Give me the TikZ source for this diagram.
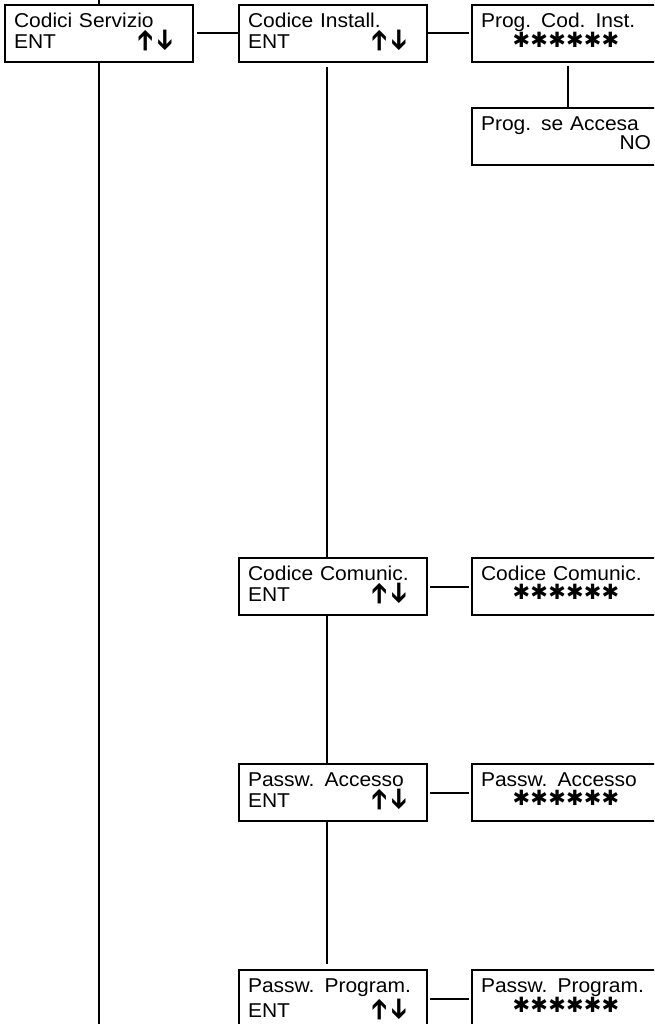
\documentclass[tikz,border=0pt]{standalone}
\usepackage{fontspec}
\usepackage{graphicx}
\setmainfont{Liberation Sans}[FakeStretch=1.05]
\newfontfamily\dejavu{DejaVu Sans}
\newcommand{\updown}{{\dejavu\fontsize{28}{19}\selectfont\rotatebox[origin=c]{90}{➔}\hspace{2pt}\rotatebox[origin=c]{-90}{➔}}}
\newcommand{\onestar}{\makebox[17.8pt]{\dejavu\fontsize{21}{19}\selectfont ✱}}
\newcommand{\pwd}{\onestar\onestar\onestar\onestar\onestar\onestar}
\begin{document}
\begin{tikzpicture}[x=1pt,y=-1pt,
  menu/.style={draw,line width=2pt,rectangle,anchor=north west,outer sep=0pt,
    text width=170pt,inner xsep=9pt,inner ysep=0pt,text height=22.5pt,text depth=34.5pt,
    align=left,font=\fontsize{20}{19}\selectfont},
  link/.style={line width=2pt}]
\useasboundingbox (0,0) rectangle (654,1024);
\clip (0,0) rectangle (654,1024);
\node[menu] (servizio) at (5,5) {Codici Servizio\\ENT\hspace*{\fill}\updown\hspace*{12pt}\null};
\node[menu] (install) at (239,5) {Codice Install.\\ENT\hspace*{\fill}\updown\hspace*{12pt}\null};
\node[menu] (instcode) at (472,5) {Prog. Cod. Inst.\\\hspace*{\fill}\pwd\hspace*{\fill}\null};
\node[menu] (progaccesa) at (472,108) {Prog. se Accesa\\\hspace*{\fill}NO};
\node[menu] (comunic) at (239,558) {Codice Comunic.\\ENT\hspace*{\fill}\updown\hspace*{12pt}\null};
\node[menu] (comcode) at (472,558) {Codice Comunic.\\\hspace*{\fill}\pwd\hspace*{\fill}\null};
\node[menu] (accesso) at (239,764) {Passw. Accesso\\ENT\hspace*{\fill}\updown\hspace*{12pt}\null};
\node[menu] (acccode) at (472,764) {Passw. Accesso\\\hspace*{\fill}\pwd\hspace*{\fill}\null};
\node[menu] (program) at (239,970) {Passw. Program.\\ENT\hspace*{\fill}\updown\hspace*{12pt}\null};
\node[menu] (progcode) at (472,970) {Passw. Program.\\\hspace*{\fill}\pwd\hspace*{\fill}\null};
\coordinate (top) at (99,0);
\coordinate (bottom) at (99,1024);
\draw[link] (top) -- (servizio);
\draw[link] (servizio) -- (bottom);
\draw[link,shorten <=4pt,shorten >=1pt] (servizio) -- (install);
\draw[link,shorten <=1pt,shorten >=3pt] (install) -- (instcode);
\draw[link,shorten <=4pt] ([xshift=2pt]instcode.south) -- ([xshift=2pt]progaccesa.north);
\draw[link,shorten <=5pt] ([xshift=-6pt]install.south) -- ([xshift=-6pt]comunic.north);
\draw[link,shorten <=3pt,shorten >=3pt] (comunic) -- (comcode);
\draw[link] ([xshift=-6pt]comunic.south) -- ([xshift=-6pt]accesso.north);
\draw[link,shorten <=3pt,shorten >=3pt] (accesso) -- (acccode);
\draw[link,shorten >=6pt] ([xshift=-6pt]accesso.south) -- ([xshift=-6pt]program.north);
\draw[link,shorten <=3pt,shorten >=3pt] (program) -- (progcode);
\end{tikzpicture}
\end{document}
